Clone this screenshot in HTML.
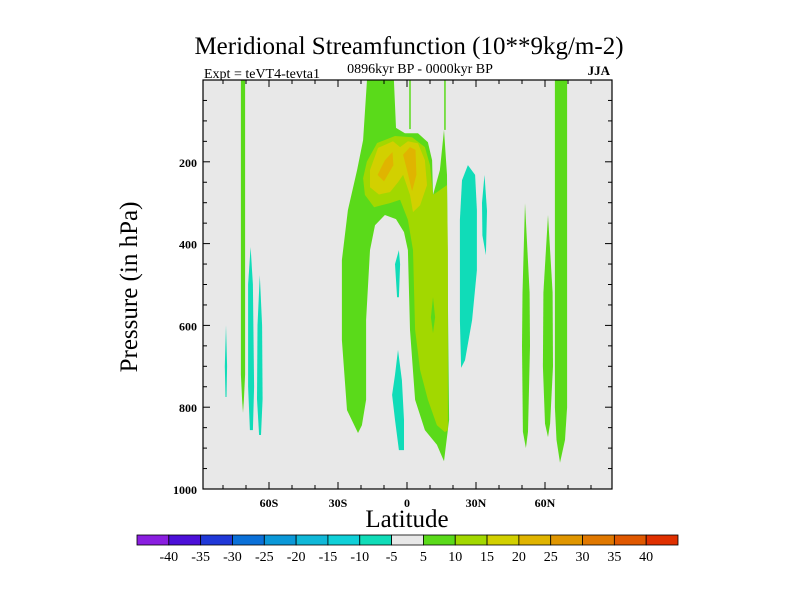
<!DOCTYPE html>
<html><head><meta charset="utf-8"><style>
html,body{margin:0;padding:0;background:#fff;}
svg{display:block;font-family:"Liberation Serif",serif;}
</style></head><body>
<svg id="chart" width="800" height="600" viewBox="0 0 800 600">
<text x="409" y="54" font-size="25" text-anchor="middle">Meridional Streamfunction (10**9kg/m-2)</text>
<text x="420" y="73" font-size="14" text-anchor="middle">0896kyr BP - 0000kyr BP</text>
<text x="204" y="78" font-size="14">Expt = teVT4-tevta1</text>
<text x="610" y="75" font-size="13" font-weight="bold" text-anchor="end">JJA</text>
<text transform="translate(137,287) rotate(-90)" font-size="25" text-anchor="middle">Pressure (in hPa)</text>
<text x="407" y="527" font-size="25" text-anchor="middle">Latitude</text>
<g id="plot"></g>
<g id="cbar"></g>
</svg>
<script>
const levelColors=["#8a1ee0","#4c10d8","#2038d8","#0a70d8","#0a98d8","#10b8d8","#10d0d8","#10dcb8","#e8e8e8","#5ada1a","#a2d800","#d2d000","#e0b400","#e09600","#e07800","#e05800","#e03000"];
const levelLabels=["-40","-35","-30","-25","-20","-15","-10","-5","5","10","15","20","25","30","35","40"];
const yTicks=[200,400,600,800,1000];
const xTicks=[-60,-30,0,30,60];
const xTickLabels=["60S","30S","0","30N","60N"];
// contour regions: [lat, pressure] points, level index into levelColors
const regionLevels=[9,10,9,11,12,12,7,7,7,7,7,7,7,9,9,9,9];
const regionNames=["contour-5-10-main","contour-10-15-main","contour-5-10-lens","contour-15-20","contour-20-25-left","contour-20-25-right","contour-neg-30n","contour-neg-33n","contour-neg-eq-upper","contour-neg-eq-lower","contour-neg-79s","contour-neg-68s","contour-neg-64s","contour-5-10-71s","contour-5-10-52n","contour-5-10-61n","contour-5-10-67n"];
const regions=[
[[-17.4,0],[-5.7,0],[-4.8,117],[-0.9,130],[4.8,130],[9.1,152],[10.9,196],[11.3,281],[14.3,220],[16.1,122],[17.4,232],[17.8,538],[18.3,831],[16.1,932],[13,892],[7.8,856],[3.5,782],[1.3,611],[0.4,416],[-1.3,372],[-4.8,340],[-9.6,330],[-13.9,355],[-16.1,416],[-17.8,587],[-17.8,782],[-19.6,844],[-21.3,863],[-26.1,807],[-28.3,636],[-28.3,440],[-25.7,318],[-21.7,220],[-19.1,147]],
[[-17.5,200],[-13,154],[-5.2,137],[2.2,140],[7.8,164],[10,208],[11.3,281],[17.4,257],[17.8,416],[17.8,856],[16.5,861],[13,844],[9.1,782],[5.7,709],[3.5,611],[2.6,416],[0.4,342],[-3,293],[-7.4,301],[-14.3,311],[-18.3,281],[-19.1,240]],
[[11.3,531],[12.2,580],[11.3,619],[10.4,580]],
[[-16.1,220],[-12.6,166],[-6.1,150],[-3,164],[0.4,150],[4.8,155],[7.8,196],[8.7,257],[5.7,306],[2.6,323],[1.3,281],[-1.7,232],[-3.9,250],[-7.4,274],[-12.2,280],[-16.1,262]],
[[-12.8,232],[-9.6,196],[-6.3,176],[-5.9,208],[-10,248]],
[[-1.7,183],[1.3,164],[3.7,171],[4.1,232],[2.2,272],[0,220]],
[[26.5,208],[29.6,232],[30.4,318],[30.4,465],[28.3,587],[25.2,685],[23.5,704],[23,587],[23,342],[23.9,245]],
[[33.7,232],[34.8,320],[34.3,428],[32.8,380],[32.6,300]],
[[-3.5,416],[-3,450],[-3.5,531],[-4.3,531],[-5.2,450]],
[[-3.9,660],[-2.2,734],[-1.3,831],[-1.3,905],[-3.5,905],[-5.2,831],[-6.5,770],[-5.2,721]],
[[-78.7,599],[-78.2,700],[-78.5,775],[-78.9,775],[-79.2,700]],
[[-68,408],[-67,500],[-66.5,750],[-67,856],[-68.3,856],[-69.1,750],[-69.1,500]],
[[-64,477],[-63,600],[-62.8,780],[-63.5,868],[-64.3,868],[-65.2,780],[-65,600]],
[[-72.2,0],[-70.4,0],[-70.4,720],[-70.9,782],[-71.3,814],[-71.7,782],[-72.2,720]],
[[51.3,301],[53.3,520],[53.5,650],[52.6,860],[51.7,900],[50.4,860],[50,650],[50.2,520]],
[[61.3,330],[63.3,520],[63.5,700],[62.2,840],[61.3,873],[60,840],[59.1,700],[59.3,520]],
[[64.3,0],[69.6,0],[69.6,800],[68.7,880],[66.5,936],[65,880],[64.3,800]]
];
const thinLines=[[1.3,0,120],[16.5,0,122]];

const NS="http://www.w3.org/2000/svg";
const L=203,R=612,T=80,B=489;
const xS=lat=>407+lat*2.3;
const yS=p=>T+p*(B-T)/1000;
function mk(tag,attrs,parent){const e=document.createElementNS(NS,tag);for(const k in attrs)e.setAttribute(k,attrs[k]);parent.appendChild(e);return e;}
const plot=document.getElementById('plot');
const bg=mk('rect',{x:L,y:T,width:R-L,height:B-T,fill:"#e8e8e8"},plot);


const clip=mk('clipPath',{id:'pc'},plot);mk('rect',{x:L,y:T,width:R-L,height:B-T},clip);
const cg=mk('g',{'clip-path':'url(#pc)'},plot);
regions.forEach((pts,i)=>{
  const d=pts.map(p=>xS(p[0]).toFixed(1)+","+yS(p[1]).toFixed(1)).join(" ");
  const poly=mk('polygon',{points:d,fill:levelColors[regionLevels[i]]},cg);
  
  
});
thinLines.forEach(t=>{
  const ln=mk('line',{x1:xS(t[0]),x2:xS(t[0]),y1:yS(t[1]),y2:yS(t[2]),stroke:levelColors[9],'stroke-width':1.5},cg);
  
  
});
const tg=mk('g',{stroke:"#000",'stroke-width':1},plot);
for(let p=50;p<1000;p+=50){const maj=p%200===0;const len=maj?7:4;
  mk('line',{x1:L,x2:L+len,y1:yS(p),y2:yS(p)},tg);mk('line',{x1:R,x2:R-len,y1:yS(p),y2:yS(p)},tg);}
for(let lat=-80;lat<=80;lat+=10){const maj=lat%30===0;const len=maj?7:4;
  mk('line',{x1:xS(lat),x2:xS(lat),y1:B,y2:B-len},tg);mk('line',{x1:xS(lat),x2:xS(lat),y1:T,y2:T+len},tg);}
const fr=mk('rect',{x:L,y:T,width:R-L,height:B-T,fill:"none",stroke:"#000",'stroke-width':1.2},plot);


yTicks.forEach(v=>{const t=mk('text',{x:L-6,y:yS(v)+5,'font-size':12,'font-weight':'bold','text-anchor':'end'},plot);t.textContent=v;
  
  });
xTicks.forEach((v,i)=>{const t=mk('text',{x:xS(v),y:B+18,'font-size':12,'font-weight':'bold','text-anchor':'middle'},plot);t.textContent=xTickLabels[i];
  
  });
const cb=document.getElementById('cbar');const cx0=137,cx1=678,cy=535,ch=10;const bw=(cx1-cx0)/levelColors.length;
levelColors.forEach((c,i)=>{const r=mk('rect',{x:cx0+i*bw,y:cy,width:bw,height:ch,fill:c,stroke:"#000",'stroke-width':0.8},cb);
  
  });
levelLabels.forEach((s,i)=>{const t=mk('text',{x:cx0+(i+1)*bw,y:cy+26,'font-size':14,'text-anchor':'middle'},cb);t.textContent=s;
  
  });
</script>
</body></html>
